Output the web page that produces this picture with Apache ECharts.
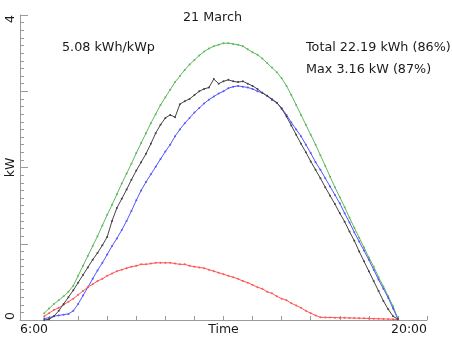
<!DOCTYPE html>
<html><head><meta charset="utf-8">
<script src="https://cdn.jsdelivr.net/npm/echarts@6/dist/echarts.min.js"></script>
<style>html,body{margin:0;padding:0;background:#fff}#c{width:452px;height:339px}</style>
</head><body><div id="c"></div>
<script>
// Sample times (10-minute steps)
const times = ["06:50","07:00","07:10","07:20","07:30","07:40","07:50","08:00","08:10","08:20",
"08:30","08:40","08:50","09:00","09:10","09:20","09:30","09:40","09:50","10:00",
"10:10","10:20","10:30","10:40","10:50","11:00","11:10","11:20","11:30","11:40",
"11:50","12:00","12:10","12:20","12:30","12:40","12:50","13:00","13:10","13:20",
"13:30","13:40","13:50","14:00","14:10","14:20","14:30","14:40","14:50","15:00",
"15:10","15:20","15:30","15:40","15:50","16:00","16:10","16:20","16:30","16:40",
"16:50","17:00","17:10","17:20","17:30","17:40","17:50","18:00","18:10","18:20",
"18:30","18:40","18:50","19:00"];

// kW values
const clearSky = [0.09,0.15,0.21,0.26,0.31,0.37,0.45,0.58,0.71,0.84,
0.97,1.10,1.24,1.38,1.51,1.65,1.79,1.92,2.05,2.19,
2.32,2.45,2.58,2.70,2.82,2.92,3.02,3.12,3.20,3.28,
3.35,3.41,3.47,3.52,3.56,3.59,3.61,3.63,3.63,3.62,
3.61,3.59,3.55,3.51,3.48,3.43,3.37,3.31,3.25,3.17,
3.07,2.95,2.82,2.69,2.56,2.43,2.30,2.16,2.02,1.88,
1.74,1.61,1.48,1.34,1.21,1.08,0.95,0.82,0.70,0.56,
0.44,0.31,0.18,0.02];

const expected = [0.02,0.03,0.05,0.06,0.07,0.08,0.12,0.21,0.32,0.43,
0.54,0.65,0.75,0.86,0.97,1.07,1.18,1.30,1.43,1.57,
1.70,1.81,1.91,2.01,2.11,2.21,2.30,2.41,2.50,2.58,
2.65,2.72,2.78,2.84,2.89,2.93,2.97,3.00,3.04,3.06,
3.07,3.06,3.05,3.03,3.00,2.98,2.94,2.90,2.85,2.78,
2.69,2.59,2.50,2.41,2.30,2.19,2.07,1.97,1.86,1.75,
1.64,1.53,1.40,1.28,1.15,1.03,0.91,0.79,0.66,0.53,
0.41,0.29,0.15,0.01];

const diffuse = [0.05,0.09,0.13,0.16,0.20,0.24,0.28,0.33,0.38,0.43,
0.47,0.51,0.54,0.58,0.61,0.64,0.66,0.68,0.70,0.71,
0.73,0.73,0.74,0.75,0.75,0.75,0.75,0.74,0.73,0.73,
0.71,0.70,0.69,0.68,0.66,0.64,0.62,0.60,0.58,0.56,
0.54,0.51,0.49,0.46,0.43,0.41,0.37,0.35,0.31,0.28,
0.26,0.22,0.19,0.16,0.12,0.09,0.06,0.035,0.034,0.033,
0.031,0.030,0.028,0.027,0.025,0.024,0.022,0.020,0.018,0.016,
0.014,0.012,0.010,0.005];

const measured = [0.00,0.01,0.05,0.12,0.21,0.30,0.39,0.49,0.59,0.69,
0.79,0.88,0.98,1.09,1.30,1.47,1.59,1.71,1.84,1.96,
2.07,2.18,2.31,2.45,2.56,2.65,2.69,2.66,2.83,2.87,
2.90,2.95,3.00,3.03,3.05,3.16,3.10,3.13,3.15,3.13,
3.12,3.13,3.10,3.07,3.03,2.98,2.94,2.89,2.85,2.77,
2.67,2.55,2.43,2.31,2.20,2.08,1.97,1.86,1.74,1.63,
1.52,1.40,1.29,1.16,1.04,0.90,0.77,0.64,0.51,0.38,
0.25,0.14,0.05,0.01];

// Tick labels
const xTickValues = [0, 7, 14];           // hours after 6:00
const xTickLabels = ["6:00", "Time", "20:00"];
const yTickValues = [0, 1, 2, 3, 4];
const yTickLabels = ["0", "", "kW", "", "4"];

const titleText = "21 March";
const specText = "5.08 kWh/kWp";
const totalText = "Total 22.19 kWh (86%)";
const maxText = "Max 3.16 kW (87%)";

function hoursAfterSix(t) {
  const p = t.split(":");
  return (+p[0] + (+p[1]) / 60) - 6;
}
function pairs(vals) { return times.map((t, i) => [hoursAfterSix(t), vals[i]]); }

const axisGray = '#9a9a9a';
const txt = '#1a1a1a';
const fs = 12.5;
const tfs = 12.75;

function mkSeries(vals, color, z) {
  return {
    type: 'line', data: pairs(vals), z: z,
    showSymbol: true, symbol: 'circle', symbolSize: 2,
    itemStyle: { color: color },
    lineStyle: { color: color, width: 1 },
    emphasis: { disabled: true }, silent: true
  };
}
function mkTitle(text, left, top) {
  return { text: text, left: left, top: top, padding: 0,
           textStyle: { fontSize: tfs, fontWeight: 'normal', color: txt } };
}

const chart = echarts.init(document.getElementById('c'), null, { renderer: 'canvas' });
chart.setOption({
  animation: false,
  textStyle: { fontFamily: 'DejaVu Sans' },
  grid: { left: 20, right: 25, top: 15, bottom: 19, containLabel: false },
  title: [
    mkTitle(titleText, 183, 11),
    mkTitle(specText, 62, 41),
    mkTitle(totalText, 306, 41),
    mkTitle(maxText, 306, 63)
  ],
  xAxis: {
    type: 'value', min: 0, max: 14, interval: 7,
    axisLine: { show: true, lineStyle: { color: axisGray, width: 1 } },
    axisTick: { show: true, inside: true, length: 4, lineStyle: { color: axisGray } },
    minorTick: { show: true, splitNumber: 7, length: 4, lineStyle: { color: axisGray } },
    splitLine: { show: false },
    axisLabel: {
      color: txt, fontSize: fs, margin: 3,
      alignMinLabel: 'left', alignMaxLabel: 'right',
      formatter: v => { const i = xTickValues.indexOf(v); return i >= 0 ? xTickLabels[i] : ''; }
    }
  },
  yAxis: {
    type: 'value', min: 0, max: 4, interval: 1,
    axisLine: { show: true, lineStyle: { color: axisGray, width: 1 } },
    axisTick: { show: true, inside: true, length: 8, lineStyle: { color: axisGray } },
    minorTick: { show: true, splitNumber: 10, length: 4, lineStyle: { color: axisGray } },
    splitLine: { show: false },
    axisLabel: {
      color: txt, fontSize: fs, margin: 3, rotate: 90,
      alignMinLabel: 'left', alignMaxLabel: 'right',
      formatter: v => { const i = yTickValues.indexOf(v); return i >= 0 ? yTickLabels[i] : ''; }
    }
  },
  series: [
    mkSeries(clearSky, '#5cb85c', 2),
    mkSeries(expected, '#5555ff', 3),
    mkSeries(diffuse, '#ff5555', 4),
    mkSeries(measured, '#444444', 5)
  ]
});
</script>
</body></html>
